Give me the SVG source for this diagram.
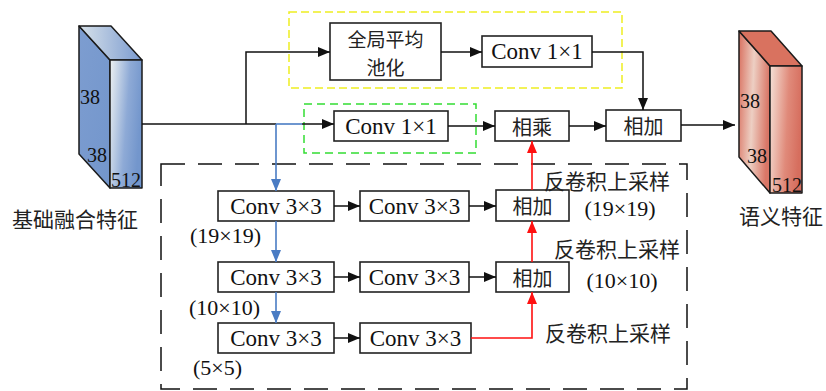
<svg xmlns="http://www.w3.org/2000/svg" width="826" height="391" viewBox="0 0 826 391">
<style>
.box{fill:#fff;stroke:#222;stroke-width:1.6}
.en{font-family:"Liberation Serif",serif;font-size:23px;fill:#111;text-anchor:middle;dominant-baseline:central}
.num{font-family:"Liberation Serif",serif;font-size:20px;fill:#111;dominant-baseline:central}
.zh{font-family:"Noto Sans CJK SC",sans-serif;font-size:20px;fill:#222;text-anchor:middle;dominant-baseline:central}
.lbl{font-family:"Noto Sans CJK SC",sans-serif;font-size:21px;fill:#222;text-anchor:middle;dominant-baseline:central}
.k{fill:none;stroke:#111;stroke-width:1.5}
.b{fill:none;stroke:#4a7cc4;stroke-width:1.6}
.r{fill:none;stroke:#ff1010;stroke-width:1.6}
.cub{stroke:#1a1a1a;stroke-width:1.5;stroke-linejoin:round}
</style>
<defs>
<marker id="ak" markerUnits="userSpaceOnUse" markerWidth="12" markerHeight="10" refX="12" refY="5" orient="auto"><path d="M0,0 L12,5 L0,10 Z" fill="#111"/></marker>
<marker id="ab" markerUnits="userSpaceOnUse" markerWidth="12" markerHeight="10" refX="12" refY="5" orient="auto"><path d="M0,0 L12,5 L0,10 Z" fill="#4a7cc4"/></marker>
<marker id="ar" markerUnits="userSpaceOnUse" markerWidth="12" markerHeight="10" refX="12" refY="5" orient="auto"><path d="M0,0 L12,5 L0,10 Z" fill="#ff1010"/></marker>
<linearGradient id="bf" x1="0" y1="0" x2="1" y2="0.3"><stop offset="0" stop-color="#eef2f2"/><stop offset="0.6" stop-color="#8eaad6"/><stop offset="1" stop-color="#7396cc"/></linearGradient>
<linearGradient id="bs" x1="0" y1="0" x2="1" y2="1"><stop offset="0" stop-color="#7d9dd0"/><stop offset="1" stop-color="#7396cc"/></linearGradient>
<linearGradient id="bt" x1="0" y1="0" x2="1" y2="0"><stop offset="0" stop-color="#d8e2ea"/><stop offset="1" stop-color="#7a9acf"/></linearGradient>
<linearGradient id="rf" x1="0" y1="0" x2="1" y2="0.2"><stop offset="0" stop-color="#f5e2d8"/><stop offset="0.6" stop-color="#e08a7a"/><stop offset="1" stop-color="#d66e5e"/></linearGradient>
<linearGradient id="rs" x1="0" y1="0" x2="1" y2="0.2"><stop offset="0" stop-color="#d9705f"/><stop offset="0.5" stop-color="#edcfc3"/><stop offset="1" stop-color="#d97666"/></linearGradient>
</defs>

<g id="input-cuboid">
<polygon class="cub" points="79,26 110,60 110,188 79,154" fill="url(#bs)"/>
<polygon class="cub" points="79,26 111,26 142,60 110,60" fill="url(#bt)"/>
<rect class="cub" x="110" y="60" width="32" height="128" fill="url(#bf)"/>
<text class="num" x="80" y="97">38</text>
<text class="num" x="87" y="155">38</text>
<text class="num" x="111" y="180">512</text>
<text class="lbl" x="75" y="218">基础融合特征</text>
</g>

<g id="output-cuboid">
<polygon class="cub" points="739,31 770,66 770,193 739,157" fill="url(#rs)"/>
<polygon class="cub" points="739,31 771,31 802,66 770,66" fill="#d9725f"/>
<rect class="cub" x="770" y="66" width="32" height="127" fill="url(#rf)"/>
<text class="num" x="740" y="101">38</text>
<text class="num" x="747" y="156">38</text>
<text class="num" x="772" y="185">512</text>
<text class="lbl" x="781" y="215">语义特征</text>
</g>

<g id="regions">
<rect x="289" y="12" width="333" height="76" fill="none" stroke="#eeee22" stroke-width="1.5" stroke-dasharray="8 4"/>
<rect x="304" y="104" width="172" height="49" fill="none" stroke="#33dd33" stroke-width="1.5" stroke-dasharray="8 5"/>
<rect x="161" y="164" width="526" height="225" fill="none" stroke="#111" stroke-width="1.5" stroke-dasharray="24 13"/>
</g>

<g id="gap"><rect class="box" x="330" y="23" width="111" height="57"/><text class="zh" x="385.5" y="38" style="font-size:19px">全局平均</text><text class="zh" x="385.5" y="66" style="font-size:19px">池化</text></g>
<g id="conv1x1-top"><rect class="box" x="482" y="36" width="110" height="31"/><text class="en" x="537" y="51.5">Conv 1×1</text></g>
<g id="conv1x1-mid"><rect class="box" x="334" y="111" width="114" height="30"/><text class="en" x="391" y="126">Conv 1×1</text></g>
<g id="mul"><rect class="box" x="495" y="111" width="74" height="30"/><text class="zh" x="532" y="126">相乘</text></g>
<g id="add-top"><rect class="box" x="606" y="110" width="75" height="31"/><text class="zh" x="643.5" y="125.5">相加</text></g>

<g id="r1c1"><rect class="box" x="218" y="191" width="116" height="30"/><text class="en" x="276" y="206">Conv 3×3</text></g>
<g id="r1c2"><rect class="box" x="360" y="191" width="109" height="30"/><text class="en" x="414.5" y="206">Conv 3×3</text></g>
<g id="r1add"><rect class="box" x="496" y="190" width="73" height="31"/><text class="zh" x="532.5" y="205.5">相加</text></g>
<g id="r2c1"><rect class="box" x="218" y="262" width="116" height="30"/><text class="en" x="276" y="277">Conv 3×3</text></g>
<g id="r2c2"><rect class="box" x="360" y="262" width="109" height="30"/><text class="en" x="414.5" y="277">Conv 3×3</text></g>
<g id="r2add"><rect class="box" x="496" y="262" width="73" height="30"/><text class="zh" x="532.5" y="277">相加</text></g>
<g id="r3c1"><rect class="box" x="218" y="323" width="116" height="30"/><text class="en" x="276" y="338">Conv 3×3</text></g>
<g id="r3c2"><rect class="box" x="360" y="323" width="111" height="30"/><text class="en" x="415.5" y="338">Conv 3×3</text></g>

<g id="labels">
<text class="en" x="190" y="235" style="text-anchor:start;font-size:22px">(19×19)</text>
<text class="en" x="189" y="307" style="text-anchor:start;font-size:22px">(10×10)</text>
<text class="en" x="193" y="367" style="text-anchor:start;font-size:22px">(5×5)</text>
<text class="lbl" x="607" y="180">反卷积上采样</text>
<text class="en" x="620" y="208" style="font-size:22px">(19×19)</text>
<text class="lbl" x="617" y="248">反卷积上采样</text>
<text class="en" x="622" y="280" style="font-size:22px">(10×10)</text>
<text class="lbl" x="608" y="332">反卷积上采样</text>
</g>

<g id="connectors">
<path class="k" d="M142,124 H276"/>
<path class="b" d="M276,124 H302"/>
<path class="k" d="M302,124 H334" marker-end="url(#ak)"/>
<path class="k" d="M246,124 V52 H330" marker-end="url(#ak)"/>
<path class="k" d="M441,52 H482" marker-end="url(#ak)"/>
<path class="k" d="M592,52 H643 V110" marker-end="url(#ak)"/>
<path class="k" d="M448,126 H495" marker-end="url(#ak)"/>
<path class="k" d="M569,126 H606" marker-end="url(#ak)"/>
<path class="k" d="M681,125 H735" marker-end="url(#ak)"/>
<path class="b" d="M276,124 V191" marker-end="url(#ab)"/>
<path class="b" d="M276,221 V262" marker-end="url(#ab)"/>
<path class="b" d="M276,292 V323" marker-end="url(#ab)"/>
<path class="k" d="M334,206 H360" marker-end="url(#ak)"/>
<path class="k" d="M469,206 H496" marker-end="url(#ak)"/>
<path class="k" d="M334,277 H360" marker-end="url(#ak)"/>
<path class="k" d="M469,277 H496" marker-end="url(#ak)"/>
<path class="k" d="M334,338 H360" marker-end="url(#ak)"/>
<path class="r" d="M471,338 H532 V292" marker-end="url(#ar)"/>
<path class="r" d="M532,262 V221" marker-end="url(#ar)"/>
<path class="r" d="M532,190 V141" marker-end="url(#ar)"/>
</g>
</svg>
